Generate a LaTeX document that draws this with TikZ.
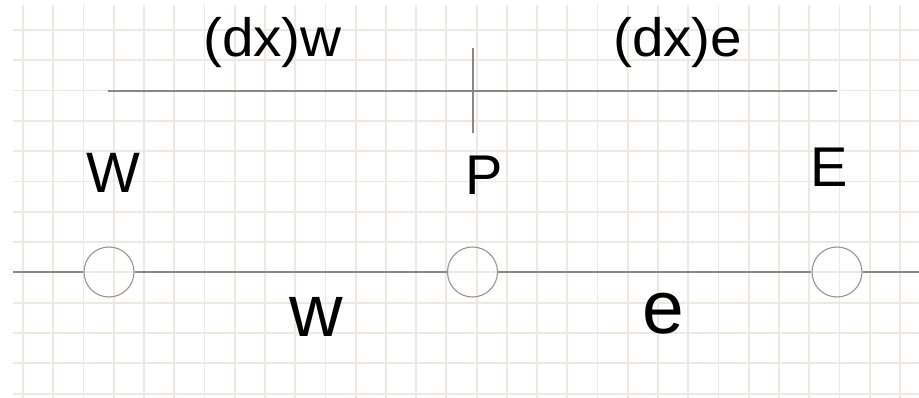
\documentclass[tikz,border=0pt]{standalone}
\usepackage{fontspec}
\setmainfont{Liberation Sans}
\definecolor{gridc}{RGB}{237,233,226}
\definecolor{linec}{RGB}{136,136,136}
\definecolor{circc}{RGB}{150,150,150}
\tikzset{
  gridline/.style={draw=gridc, line width=1.8pt},
  axisline/.style={draw=linec, line width=1.6pt},
  cellnode/.style={circle, draw=circc, line width=1.1pt, minimum size=50pt, inner sep=0pt},
  lbl/.style={inner sep=0pt, anchor=base west, text=black},
}
\begin{document}
\begin{tikzpicture}[x=1pt,y=-1pt]
\useasboundingbox (0,0) rectangle (919,398);
\fill[white] (0,0) rectangle (919,398);
% grid
\foreach \k in {0,...,29} {
  \draw[gridline] ({23+30.24*\k},5) -- ({23+30.24*\k},398);
}
\foreach \k in {0,...,12} {
  \draw[gridline] (13,{30+30.3*\k}) -- (919,{30+30.3*\k});
}
% main axis with cells
\coordinate (L) at (13,272);
\coordinate (R) at (919,272);
\node[cellnode] (Wc) at (109,272) {};
\node[cellnode] (Pc) at (472.5,272) {};
\node[cellnode] (Ec) at (837,272) {};
\draw[axisline] (L) -- (Wc.west);
\draw[axisline] (Wc.east) -- (Pc.west);
\draw[axisline] (Pc.east) -- (Ec.west);
\draw[axisline] (Ec.east) -- (R);
% dimension line
\coordinate (TL) at (108,91);
\coordinate (TR) at (837,91);
\coordinate (TT) at (473,48);
\coordinate (TB) at (473,133);
\draw[axisline] (TL) -- (TR);
\draw[axisline] (TT) -- (TB);
% labels
\node[lbl, font=\fontsize{54}{54}\selectfont] (dxw) at (203,57) {\scalebox{1.05}[1]{(dx)w}};
\node[lbl, font=\fontsize{54}{54}\selectfont] (dxe) at (613,57) {\scalebox{1.05}[1]{(dx)e}};
\node[lbl, font=\fontsize{57}{57}\selectfont] (Wl) at (86,193) {W};
\node[lbl, font=\fontsize{56}{56}\selectfont] (Pl) at (465.5,195) {P};
\node[lbl, font=\fontsize{56}{56}\selectfont] (El) at (810,187) {E};
\node[lbl, font=\fontsize{74}{74}\selectfont] (wl) at (289,337) {w};
\node[lbl, font=\fontsize{75}{75}\selectfont] (el) at (642,334) {e};
\end{tikzpicture}
\end{document}
